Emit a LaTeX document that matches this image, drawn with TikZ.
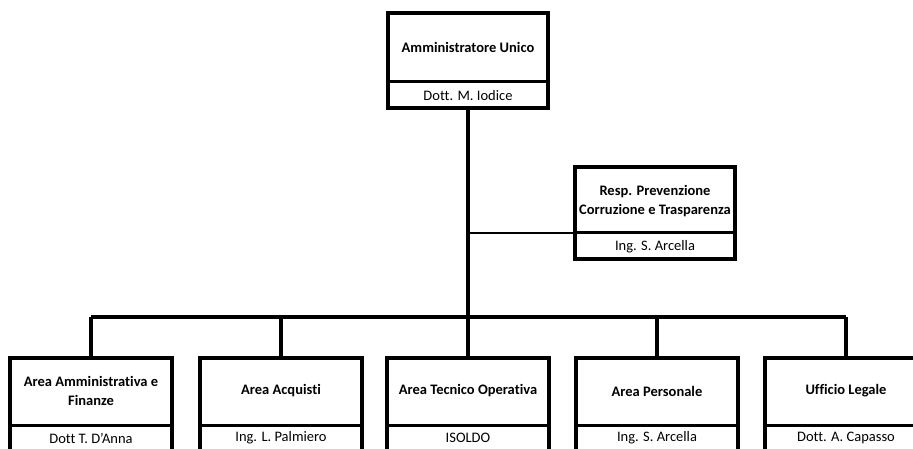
\documentclass[tikz,border=0pt]{standalone}
\usepackage{fontspec}
\setmainfont[RawFeature={-liga;-clig;-calt}]{Carlito}
\begin{document}
\begin{tikzpicture}[x=1pt,y=-1pt,
  boxline/.style={line width=4.5pt},
  divline/.style={line width=3pt},
  conn/.style={line width=3.2pt},
  thinconn/.style={line width=2.5pt},
  titletxt/.style={inner sep=0pt, align=center, font=\fontsize{14.5}{18.5}\selectfont\bfseries},
  nametxt/.style={inner sep=0pt, align=center, font=\fontsize{14.5}{18.5}\selectfont}
]
\path[use as bounding box, clip] (0,0) rectangle (913,449);
\fill[white] (0,0) rectangle (913,449);

% top box
\coordinate (au-nw) at (388,13);
\coordinate (au-se) at (548,108);
\node[titletxt] (au) at (468,47) {Amministratore Unico};
\node[nametxt] (aun) at (468,96) {Dott. M. Iodice};
\draw[divline] (388,82) -- (548,82);
\draw[boxline] (au-nw) rectangle (au-se);
\coordinate (au-s) at (468,108);

% resp box
\coordinate (rp-nw) at (575,167);
\coordinate (rp-se) at (735,259);
\coordinate (rp-w) at (575,233);
\node[titletxt] (rp) at (655,201) {Resp. Prevenzione\\Corruzione e Trasparenza};
\node[nametxt] (rpn) at (655,247) {Ing. S. Arcella};
\draw[divline] (575,233) -- (735,233);
\draw[boxline] (rp-nw) rectangle (rp-se);

% bus
\coordinate (bus) at (468,317);
\coordinate (bus-l) at (91,317);
\coordinate (bus-r) at (846,317);

% bottom boxes
\foreach \cx/\nm/\ttl/\per in {91/b1/{Area Amministrativa e\\Finanze}/{Dott T. D'Anna},
  281/b2/{Area Acquisti}/{Ing. L. Palmiero},
  468/b3/{Area Tecnico Operativa}/{ISOLDO},
  657/b4/{Area Personale}/{Ing. S. Arcella},
  846/b5/{Ufficio Legale}/{Dott. A. Capasso}}{
  \coordinate (\nm-n) at (\cx,358);
  \node[titletxt] (\nm) at (\cx,391) {\ttl};
  \node[nametxt] (\nm p) at (\cx,438) {\per};
  \draw[divline] (\cx-81,425) -- (\cx+81,425);
  \draw[boxline] (\cx-81,358) rectangle (\cx+81,460);
}

% connectors
\draw[conn] (au-s) -- (bus);
\draw[thinconn] (468,233) -- (rp-w);
\draw[conn] (bus-l) -- (bus-r);
\draw[conn] (b1-n) -- (91,317);
\draw[conn] (b2-n) -- (281,317);
\draw[conn] (b3-n) -- (468,317);
\draw[conn] (b4-n) -- (657,317);
\draw[conn] (b5-n) -- (846,317);
\end{tikzpicture}
\end{document}
